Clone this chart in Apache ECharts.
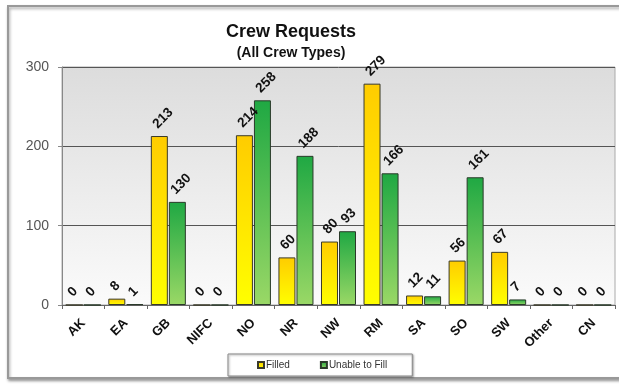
<!DOCTYPE html>
<html>
<head>
<meta charset="utf-8">
<script src="https://cdn.jsdelivr.net/npm/echarts@6/dist/echarts.min.js"></script>
<style>html,body{margin:0;padding:0;background:#fff;}#c{width:619px;height:385px;}</style>
</head>
<body>
<div id="c"></div>
<script>
var categories = ['AK','EA','GB','NIFC','NO','NR','NW','RM','SA','SO','SW','Other','CN'];
var filled = [0, 8, 213, 0, 214, 60, 80, 279, 12, 56, 67, 0, 0];
var unable = [0, 1, 130, 0, 258, 188, 93, 166, 11, 161, 7, 0, 0];
var yTicks = [0, 100, 200, 300];
var titleText = 'Crew Requests';
var subText = '(All Crew Types)';

var chart = echarts.init(document.getElementById('c'), null, {renderer: 'canvas'});
var font = 'Liberation Sans, Arial, sans-serif';
function lbl() {
  return {
    show: true, position: 'top', rotate: 45, align: 'left', verticalAlign: 'middle',
    distance: 14, offset: [-6, 0],
    fontFamily: font, fontWeight: 'bold', fontSize: 13.5, color: '#111'
  };
}
chart.setOption({
  animation: false,
  backgroundColor: '#fff',
  graphic: [{
    type: 'rect', z: -10, silent: true,
    shape: {x: 8, y: 6, width: 616, height: 372},
    style: {fill: '#fff', stroke: '#999', lineWidth: 2,
      shadowColor: 'rgba(0,0,0,0.35)', shadowBlur: 3, shadowOffsetX: 1, shadowOffsetY: 2}
  }],
  title: [{
    text: titleText, left: 286, textAlign: 'center', top: 18,
    textStyle: {fontFamily: font, fontWeight: 'bold', fontSize: 18, color: '#111'}
  }, {
    text: subText, left: 286, textAlign: 'center', top: 41,
    textStyle: {fontFamily: font, fontWeight: 'bold', fontSize: 14, color: '#111'}
  }],
  legend: {
    data: ['Filled', 'Unable to Fill'],
    left: 228, top: 354,
    padding: [6, 25, 6, 29], itemGap: 30,
    itemWidth: 6, itemHeight: 6, icon: 'rect',
    borderColor: '#888', borderWidth: 1, backgroundColor: '#fff',
    shadowColor: 'rgba(0,0,0,0.35)', shadowBlur: 2, shadowOffsetX: 1, shadowOffsetY: 1,
    textStyle: {fontFamily: font, fontSize: 10, color: '#333', padding: [0, 0, 0, -3]}
  },
  grid: {
    left: 62, right: 4, top: 67, bottom: 80,
    show: true, borderColor: '#aaa', borderWidth: 1,
    backgroundColor: {type: 'linear', x: 0, y: 0, x2: 0, y2: 1,
      colorStops: [{offset: 0, color: '#dcdcdc'}, {offset: 1, color: '#fbfbfb'}]}
  },
  xAxis: {
    type: 'category', data: categories,
    axisLine: {lineStyle: {color: '#666', width: 1}},
    axisTick: {show: true, alignWithLabel: false, length: 4, lineStyle: {color: '#666'}},
    axisLabel: {rotate: 45, interval: 0, margin: 16, fontFamily: font, fontWeight: 'bold', fontSize: 13, color: '#111'}
  },
  yAxis: {
    type: 'value', min: 0, max: 300, interval: 100,
    axisLine: {show: true, lineStyle: {color: '#888'}},
    axisTick: {show: true, length: 4, lineStyle: {color: '#888'}},
    axisLabel: {fontFamily: font, fontSize: 14, color: '#555', margin: 13},
    splitLine: {show: true, lineStyle: {color: '#555', width: 1}}
  },
  series: [{
    name: 'Filled', type: 'bar', data: filled, barWidth: 17, barGap: '6%',
    itemStyle: {
      borderColor: '#3a3a2a', borderWidth: 1,
      color: {type: 'linear', x: 0, y: 0, x2: 0, y2: 1,
        colorStops: [{offset: 0, color: '#ffcc00'}, {offset: 1, color: '#ffff00'}]}
    },
    label: lbl()
  }, {
    name: 'Unable to Fill', type: 'bar', data: unable, barWidth: 17,
    itemStyle: {
      borderColor: '#2a3a2a', borderWidth: 1,
      color: {type: 'linear', x: 0, y: 0, x2: 0, y2: 1,
        colorStops: [{offset: 0, color: '#1fa843'}, {offset: 1, color: '#9ad866'}]}
    },
    label: lbl()
  }]
});
</script>
</body>
</html>
